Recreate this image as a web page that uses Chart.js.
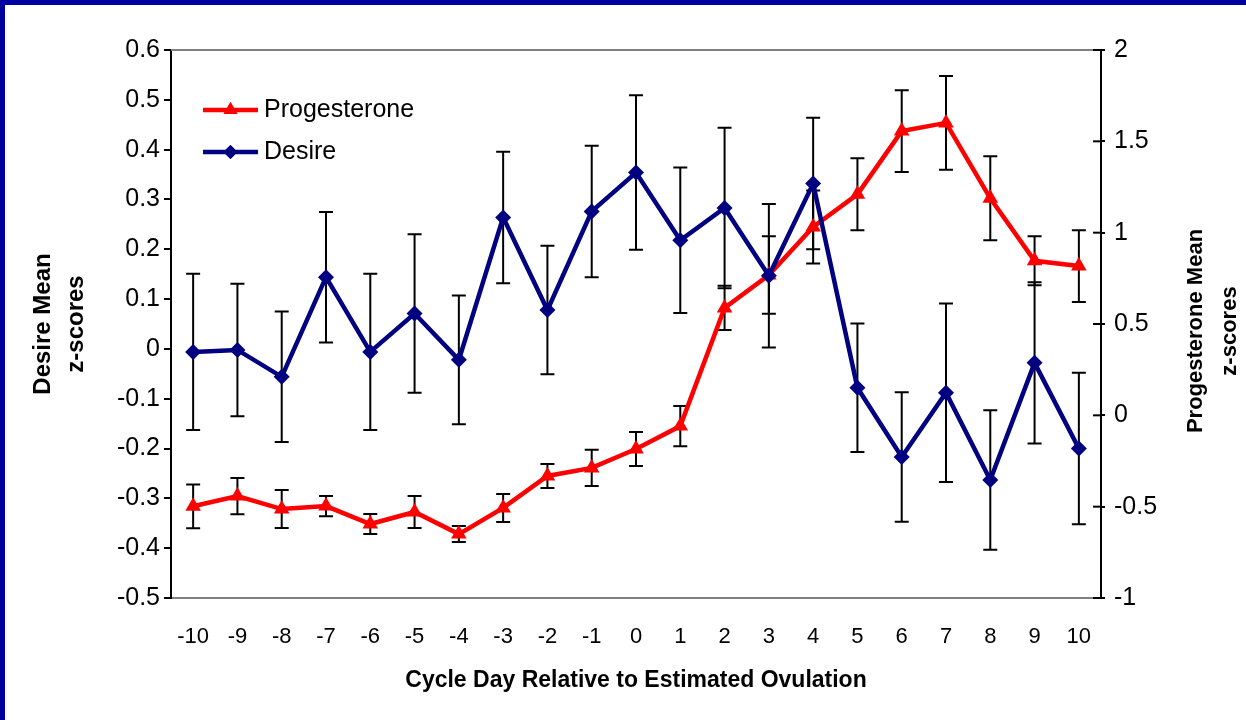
<!DOCTYPE html>
<html><head><meta charset="utf-8">
<script src="https://cdn.jsdelivr.net/npm/chart.js@4.4.1/dist/chart.umd.min.js"></script>
<style>
html,body{margin:0;padding:0;background:#fff;overflow:hidden}
#wrap{position:relative;width:1246px;height:720px;background:#fff}
canvas{position:absolute;left:0;top:0}
.fr{position:absolute;background:#0000a0}
</style></head><body>
<div id="wrap"><canvas id="c" width="1246" height="720"></canvas>
<div class="fr" style="left:0;top:0;width:1246px;height:5px"></div>
<div class="fr" style="left:0;top:0;width:5px;height:720px"></div></div>
<script>
const days = ['-10','-9','-8','-7','-6','-5','-4','-3','-2','-1','0','1','2','3','4','5','6','7','8','9','10'];
const progesterone = [-0.498,-0.442,-0.513,-0.497,-0.595,-0.529,-0.650,-0.507,-0.332,-0.288,-0.184,-0.059,0.588,0.768,1.031,1.210,1.556,1.601,1.188,0.846,0.817];
const progesteroneErr = [0.120,0.099,0.104,0.055,0.055,0.088,0.044,0.077,0.066,0.099,0.093,0.110,0.121,0.212,0.200,0.197,0.224,0.256,0.230,0.134,0.196];
const desire = [-0.006,-0.002,-0.056,0.144,-0.006,0.071,-0.022,0.264,0.078,0.276,0.354,0.218,0.283,0.147,0.332,-0.078,-0.217,-0.088,-0.263,-0.028,-0.200];
const desireErr = [0.157,0.133,0.131,0.131,0.157,0.159,0.129,0.132,0.129,0.132,0.155,0.146,0.161,0.144,0.132,0.129,0.130,0.179,0.140,0.162,0.152];
const xTitle = 'Cycle Day Relative to Estimated Ovulation';
const leftTitle = ['Desire Mean','z-scores'];
const rightTitle = ['Progesterone Mean','z-scores'];

const FONT = "'Liberation Sans', Arial, sans-serif";

const errorBars = {
  id: 'errorBars',
  beforeDatasetsDraw(chart) {
    const ctx = chart.ctx;
    const xs = chart.scales.x;
    ctx.save();
    ctx.strokeStyle = '#000';
    ctx.lineWidth = 2;
    chart.data.datasets.forEach(ds => {
      const ys = chart.scales[ds.yAxisID];
      ds.data.forEach((v, i) => {
        const e = ds.errors[i];
        const x = xs.getPixelForValue(i);
        const yt = ys.getPixelForValue(v + e);
        const yb = ys.getPixelForValue(v - e);
        ctx.beginPath();
        ctx.moveTo(x, yt); ctx.lineTo(x, yb);
        ctx.moveTo(x - 7, yt); ctx.lineTo(x + 7, yt);
        ctx.moveTo(x - 7, yb); ctx.lineTo(x + 7, yb);
        ctx.stroke();
      });
    });
    ctx.restore();
  }
};

const decor = {
  id: 'decor',
  afterDraw(chart) {
    const ctx = chart.ctx;
    const a = chart.chartArea;
    ctx.save();
    ctx.strokeStyle = '#808080';
    ctx.lineWidth = 2;
    ctx.beginPath();
    ctx.moveTo(a.left, a.top); ctx.lineTo(a.right, a.top);
    ctx.stroke();
    const yr = chart.scales.y1;
    ctx.strokeStyle = '#000';
    yr.ticks.forEach(t => {
      const y = yr.getPixelForValue(t.value);
      ctx.beginPath(); ctx.moveTo(a.right - 8, y); ctx.lineTo(a.right, y); ctx.stroke();
    });
    ctx.fillStyle = '#000';
    ctx.font = "bold 22px " + FONT;
    ctx.textAlign = 'center';
    ctx.textBaseline = 'middle';
    ctx.translate(1196, 331);
    ctx.rotate(-Math.PI / 2);
    rightTitle.forEach((t, i) => ctx.fillText(t, 0, i * 34));
    ctx.restore();

    ctx.save();
    const order = [1, 0];
    const rows = [110, 152];
    order.forEach((di, k) => {
      const ds = chart.data.datasets[di];
      const y = rows[k];
      ctx.strokeStyle = ds.borderColor;
      ctx.lineWidth = ds.borderWidth;
      ctx.beginPath(); ctx.moveTo(203, y); ctx.lineTo(258, y); ctx.stroke();
      ctx.fillStyle = ds.pointBackgroundColor;
      Chart.helpers.drawPoint(ctx, {pointStyle: ds.pointStyle, radius: ds.pointRadius - 1, rotation: 0, borderWidth: 0}, 230.5, y);
      ctx.fill();
      ctx.fillStyle = '#000';
      ctx.font = "25px " + FONT;
      ctx.textAlign = 'left';
      ctx.textBaseline = 'middle';
      ctx.fillText(ds.label, 264, y);
    });
    ctx.restore();
  }
};

new Chart(document.getElementById('c'), {
  type: 'line',
  data: {
    labels: days,
    datasets: [
      {
        label: 'Desire', data: desire, errors: desireErr, yAxisID: 'y',
        borderColor: '#000080', backgroundColor: '#000080', borderWidth: 4.5,
        pointStyle: 'rectRot', pointRadius: 8, pointBackgroundColor: '#000080',
        pointBorderColor: '#000080', pointBorderWidth: 0, tension: 0, fill: false
      },
      {
        label: 'Progesterone', data: progesterone, errors: progesteroneErr, yAxisID: 'y1',
        borderColor: '#ff0000', backgroundColor: '#ff0000', borderWidth: 4.5,
        pointStyle: 'triangle', pointRadius: 9, pointBackgroundColor: '#ff0000',
        pointBorderColor: '#ff0000', pointBorderWidth: 0, tension: 0, fill: false
      }
    ]
  },
  options: {
    responsive: false,
    animation: false,
    devicePixelRatio: 1,
    layout: { padding: { top: 50, left: 0, right: 0, bottom: 0 } },
    plugins: { legend: { display: false }, tooltip: { enabled: false } },
    scales: {
      x: {
        type: 'category',
        offset: true,
        grid: { display: false, drawTicks: false },
        border: { display: true, color: '#808080', width: 2 },
        ticks: { color: '#000', font: { family: FONT, size: 22 }, padding: 26, maxRotation: 0, autoSkip: false },
        title: { display: true, text: xTitle, color: '#000', font: { family: FONT, size: 23, weight: 'bold', lineHeight: 1.2 }, padding: { top: 0, bottom: 26 } },
        afterFit: s => { s.height = 122; }
      },
      y: {
        position: 'left',
        min: -0.5, max: 0.6,
        grid: { display: true, drawOnChartArea: false, drawTicks: true, tickLength: 7, color: '#000', lineWidth: 2 },
        border: { display: true, color: '#000', width: 2 },
        ticks: { stepSize: 0.1, color: '#000', font: { family: FONT, size: 25 }, padding: 4,
          callback: v => String(Math.round(v * 10) / 10) },
        title: { display: true, text: leftTitle, color: '#000', font: { family: FONT, size: 24, weight: 'bold', lineHeight: 1.36 }, padding: { top: 27, bottom: 0 } },
        afterFit: s => { s.width = 171; }
      },
      y1: {
        position: 'right',
        min: -1, max: 2,
        grid: { display: true, drawOnChartArea: false, drawTicks: true, tickLength: 4, color: '#000', lineWidth: 2 },
        border: { display: true, color: '#000', width: 2 },
        ticks: { stepSize: 0.5, color: '#000', font: { family: FONT, size: 25 }, padding: 9,
          callback: v => String(Math.round(v * 10) / 10) },
        afterFit: s => { s.width = 145; }
      }
    }
  },
  plugins: [errorBars, decor]
});
</script>
</body></html>
